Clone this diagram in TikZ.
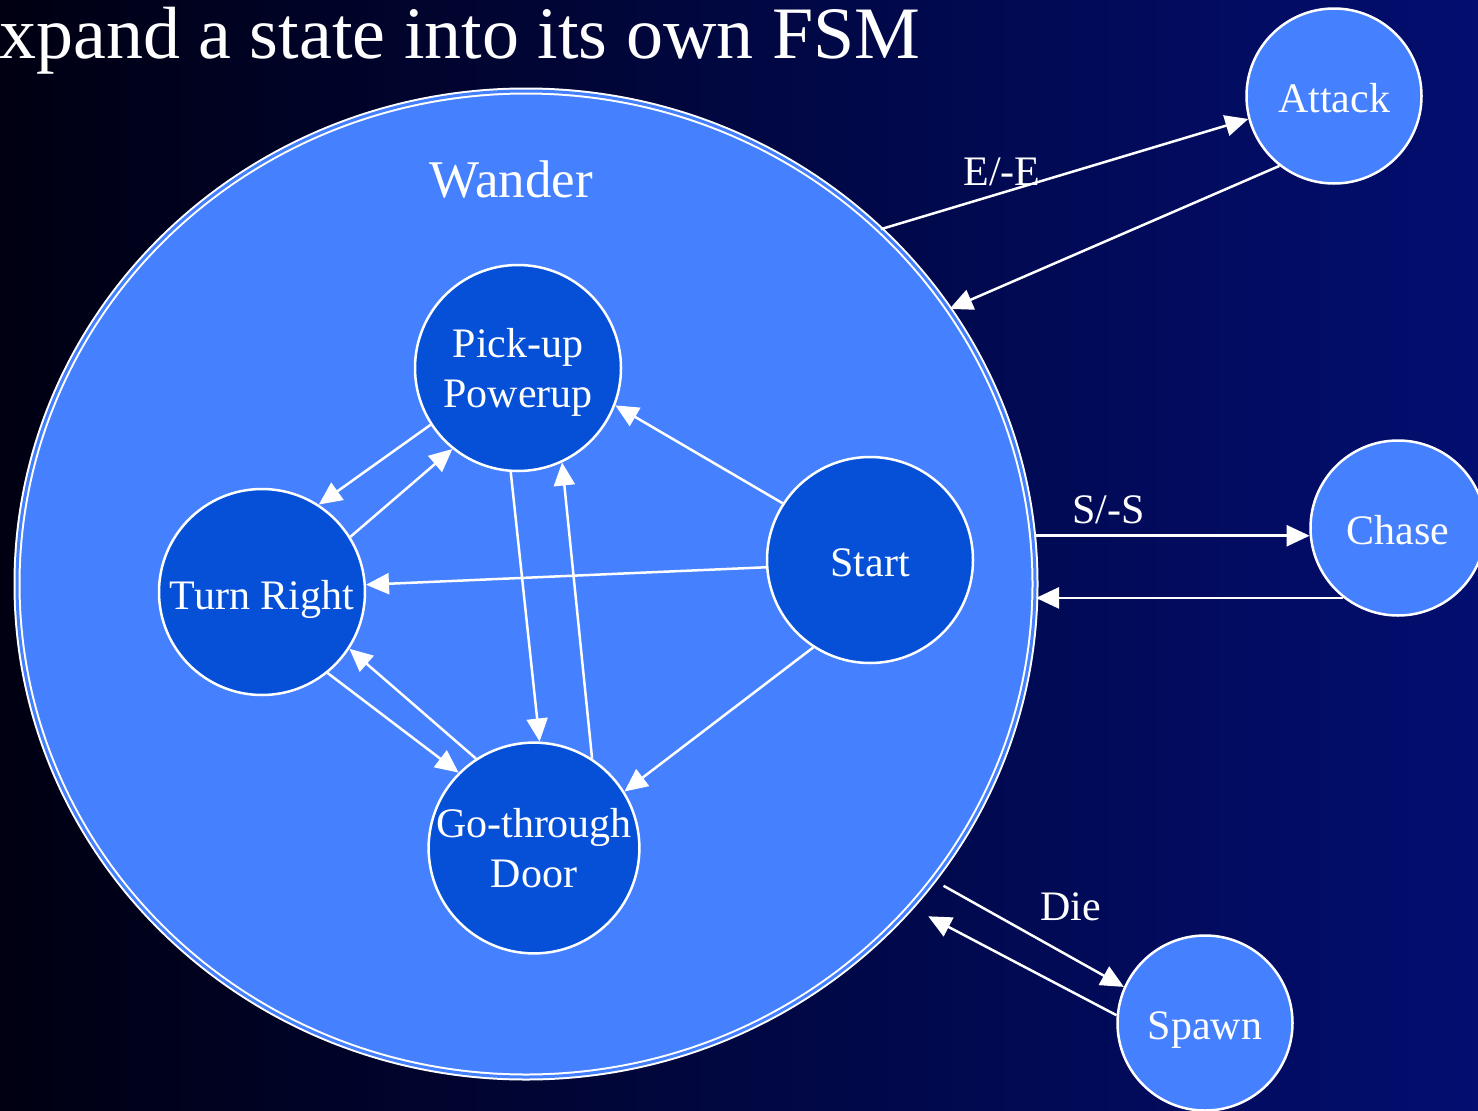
\documentclass[tikz,border=0pt]{standalone}
\usepackage{fontspec}
\setmainfont{Liberation Serif}
\usetikzlibrary{arrows.meta,shapes.geometric}

\definecolor{bgleft}{RGB}{0,0,18}
\definecolor{bgright}{RGB}{2,14,112}
\definecolor{lightblue}{RGB}{69,128,255}
\definecolor{deepblue}{RGB}{5,80,215}

\tikzset{
  labelfont/.style={font=\fontsize{42}{50}\selectfont},
  outerstate/.style={circle, draw=white, line width=2.5pt, fill=lightblue,
    text=white, minimum size=175pt, inner sep=0pt, labelfont,
    text height=32pt, text depth=0pt},
  innerstate/.style={circle, draw=white, line width=2.5pt, fill=deepblue,
    text=white, minimum size=206pt, inner sep=0pt, align=center, labelfont},
  oneline/.style={text height=34pt, text depth=0pt},
  twoline/.style={text height=79pt, text depth=0pt},
  superstate/.style={ellipse, draw=white, line width=2pt, double=lightblue,
    double distance=3pt, fill=lightblue, minimum width=1018pt,
    minimum height=986pt, inner sep=0pt},
  trans/.style={draw=white, line width=2.5pt,
    -{Triangle[length=23pt,width=21pt]}},
  translabel/.style={text=white, labelfont, inner sep=0pt}
}

\begin{document}
\begin{tikzpicture}[x=1pt, y=-1pt]
  % background with horizontal gradient
  \shade[left color=bgleft, right color=bgright] (0,0) rectangle (1478,1111);
  \useasboundingbox (0,0) rectangle (1478,1111);

  % title
  \node[anchor=base west, text=white, inner sep=0pt,
        font=\fontsize{74}{80}\selectfont] (title) at (-1,58)
        {xpand a state into its own FSM};

  % the composite state and its inner machine
  \node[superstate] (wander) at (526,584) {};
  \node[text=white, font=\fontsize{53}{60}\selectfont, inner sep=0pt]
        (wandername) at (511,180) {Wander};

  \node[innerstate, twoline] (pick)  at (518,368) {Pick-up\\Powerup};
  \node[innerstate, oneline] (turn)  at (262,592) {Turn Right};
  \node[innerstate, text height=32pt, text depth=0pt] (start) at (870,560) {Start};
  \node[innerstate, twoline] (door)  at (534,848) {Go-through\\Door};

  % outer states
  \node[outerstate] (attack) at (1334,96)   {Attack};
  \node[outerstate] (chase)  at (1398,528)  {Chase};
  \node[outerstate] (spawn)  at (1205,1023) {Spawn};

  % transitions inside Wander
  \draw[trans] (pick.213)  -- (turn.57);
  \draw[trans] (turn.32)   -- (pick.231);
  \draw[trans] (start.147) -- (pick.339);
  \draw[trans] (start.184) -- (turn.4);
  \draw[trans] (pick.266)  -- (door.87);
  \draw[trans] (door.57)   -- (pick.295);
  \draw[trans] (turn.309)  -- (door.135);
  \draw[trans] (door.123)  -- (turn.327);
  \draw[trans] (start.237) -- (door.32);

  % transitions between Wander and the other states
  \draw[trans] (wander.45) -- node[translabel, pos=0.33, yshift=21pt] (lblE) {E/-E} (attack.195);
  \draw[trans] (attack.232) -- (wander.33);
  \draw[trans] (wander.east |- chase.185) -- node[translabel, pos=0.265, yshift=26pt] (lblS) {S/-S} (chase.185);
  \draw[trans] (chase.232) -- (wander.east |- chase.232);
  \draw[trans, shorten <=11pt] (wander.324) -- node[translabel, pos=0.72, yshift=50pt] (lblD) {Die} (spawn.156);
  \draw[trans, shorten >=19pt] (spawn.175) -- (wander.320);
\end{tikzpicture}
\end{document}
